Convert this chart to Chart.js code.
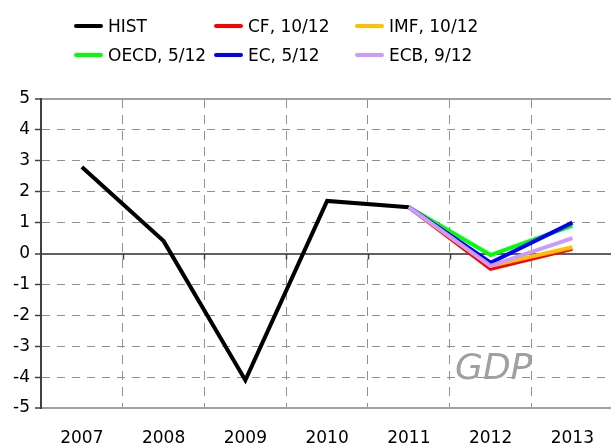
<!DOCTYPE html>
<html>
<head>
<meta charset="utf-8">
<script src="https://cdn.jsdelivr.net/npm/chart.js@4/dist/chart.umd.min.js"></script>
<style>
  html, body { margin: 0; padding: 0; background: #fff; overflow: hidden; }
  #wrap { position: relative; width: 611px; height: 443px; overflow: hidden; }
  canvas { position: absolute; left: 0; top: 0; }
  .leg { position: absolute; font-family: "DejaVu Sans", Verdana, sans-serif; font-size: 17px; color: #000; line-height: 20px; white-space: nowrap; }
  .leg span.sw { position: absolute; left: 0; top: 9px; width: 29px; height: 4px; border-radius: 2px; }
  .leg span.tx { position: absolute; left: 34px; top: 1px; }
</style>
</head>
<body>
<div id="wrap">
  <canvas id="c" width="614" height="443"></canvas>
  <div id="legend"></div>
</div>
<script>
const years = ["2007", "2008", "2009", "2010", "2011", "2012", "2013"];
const hist = [2.8, 0.4, -4.1, 1.7, 1.5, null, null];
const cf   = [null, null, null, null, 1.5, -0.5, 0.15];
const imf  = [null, null, null, null, 1.5, -0.4, 0.2];
const oecd = [null, null, null, null, 1.5, -0.05, 0.9];
const ec   = [null, null, null, null, 1.5, -0.3, 1.0];
const ecb  = [null, null, null, null, 1.5, -0.4, 0.5];
const seriesNames = ["HIST", "CF, 10/12", "IMF, 10/12", "OECD, 5/12", "EC, 5/12", "ECB, 9/12"];
const seriesColors = ["#000000", "#ff0000", "#ffc000", "#00ff00", "#0000ff", "#cc99ff"];
const yMin = -5, yMax = 5;
const chartTitle = "GDP";

const seriesData = [hist, cf, imf, oecd, ec, ecb];
const datasets = seriesData.map((d, i) => ({
  label: seriesNames[i],
  data: d,
  borderColor: seriesColors[i],
  backgroundColor: seriesColors[i],
  borderWidth: 4,
  pointRadius: 0,
  pointHoverRadius: 0,
  tension: 0,
  spanGaps: false,
  order: 6 - i
}));

// HTML legend, 3 columns x 2 rows
const legendPos = [[74, 15], [214, 15], [355, 15], [74, 44], [214, 44], [355, 44]];
const legEl = document.getElementById('legend');
seriesNames.forEach((n, i) => {
  const d = document.createElement('div');
  d.className = 'leg';
  d.style.left = legendPos[i][0] + 'px';
  d.style.top = legendPos[i][1] + 'px';
  d.innerHTML = '<span class="sw" style="background:' + seriesColors[i] + '"></span><span class="tx"></span>';
  d.querySelector('.tx').textContent = n;
  legEl.appendChild(d);
});

const titlePlugin = {
  id: 'gdpTitle',
  afterDraw(chart) {
    const ctx = chart.ctx;
    ctx.save();
    ctx.font = 'italic 36px "DejaVu Sans", Verdana, sans-serif';
    ctx.fillStyle = '#a0a0a0';
    ctx.textAlign = 'left';
    ctx.textBaseline = 'alphabetic';
    ctx.fillText(chartTitle, 455, 379);
    ctx.restore();
  }
};

// small tick marks on the zero line at category boundaries
const zeroTicks = {
  id: 'zeroTicks',
  beforeDatasetsDraw(chart) {
    const x = chart.scales.x, y = chart.scales.y;
    const y0 = y.getPixelForValue(0);
    const ctx = chart.ctx;
    ctx.save();
    ctx.strokeStyle = '#404040';
    ctx.lineWidth = 1.5;
    for (let i = 1; i < years.length; i++) {
      const px = Math.round((x.getPixelForValue(i - 1) + x.getPixelForValue(i)) / 2) + 0.5;
      ctx.beginPath();
      ctx.moveTo(px, y0);
      ctx.lineTo(px, y0 + 6);
      ctx.stroke();
    }
    ctx.restore();
  }
};

new Chart(document.getElementById('c'), {
  type: 'line',
  data: { labels: years, datasets },
  plugins: [titlePlugin, zeroTicks],
  options: {
    responsive: false,
    animation: false,
    events: [],
    layout: { padding: { top: 99, right: 0, left: 0, bottom: 0 } },
    plugins: { legend: { display: false }, tooltip: { enabled: false } },
    scales: {
      x: {
        type: 'category',
        offset: true,
        grid: {
          offset: true,
          drawTicks: false,
          color: (c) => (c.index === 0 ? 'rgba(0,0,0,0)' : '#909090'),
          lineWidth: 1
        },
        border: { display: true, color: '#a0a0a0', width: 2, dash: [9, 7] },
        ticks: {
          color: '#000',
          font: { family: '"DejaVu Sans", Verdana, sans-serif', size: 17 },
          padding: 20,
          maxRotation: 0,
          autoSkip: false
        },
        afterFit: (s) => { s.height = 35; }
      },
      y: {
        min: yMin,
        max: yMax,
        grid: {
          drawTicks: true,
          tickLength: 6,
          tickColor: '#404040',
          tickWidth: 1.5,
          color: (c) => {
            const v = c.tick ? c.tick.value : null;
            if (v === 0) return '#606060';
            if (v === yMin || v === yMax) return '#a0a0a0';
            return '#909090';
          },
          lineWidth: (c) => {
            const v = c.tick ? c.tick.value : null;
            return (v === 0 || v === yMin || v === yMax) ? 2 : 1;
          }
        },
        border: {
          display: true,
          color: '#404040',
          width: 2,
          dash: (c) => {
            const v = c.tick ? c.tick.value : null;
            return (v === 0 || v === yMin || v === yMax) ? [] : [8, 7];
          }
        },
        ticks: {
          stepSize: 1,
          color: '#000',
          font: { family: '"DejaVu Sans", Verdana, sans-serif', size: 17 },
          padding: 5
        },
        afterFit: (s) => { s.width = 41; }
      }
    }
  }
});
</script>
</body>
</html>
